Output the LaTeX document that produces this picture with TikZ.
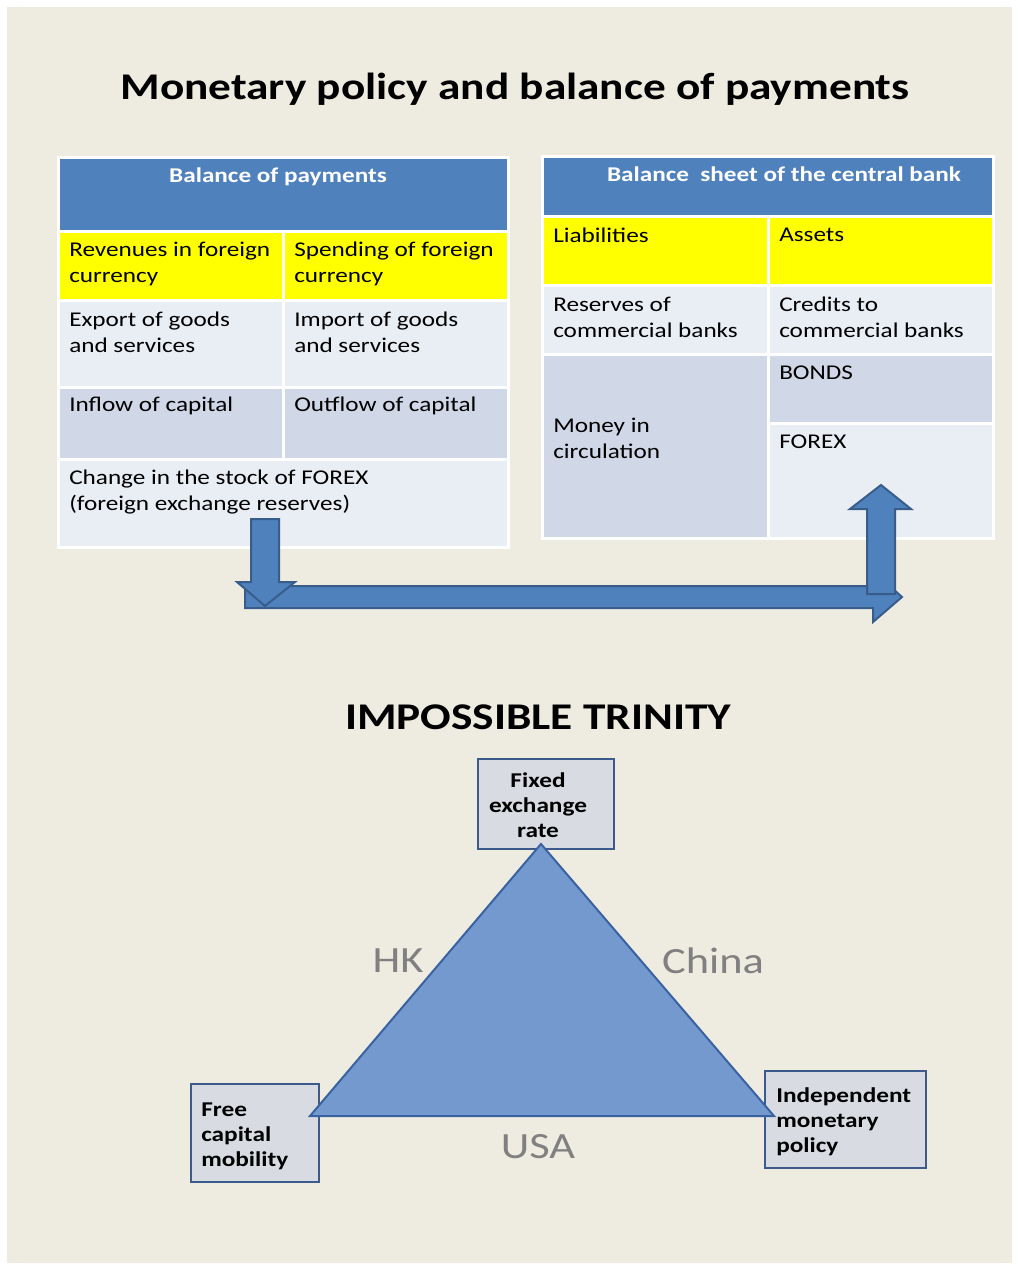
\documentclass[tikz,border=0pt]{standalone}
\usepackage{fontspec}
\setmainfont{Carlito}[FakeStretch=1.2]
\definecolor{bgbeige}{HTML}{EEECE1}
\definecolor{headblue}{HTML}{4F81BD}
\definecolor{cellyellow}{HTML}{FFFF00}
\definecolor{celllight}{HTML}{E9EDF4}
\definecolor{cellmid}{HTML}{D0D8E8}
\definecolor{arrowline}{HTML}{385D8A}
\definecolor{trifill}{HTML}{7399CF}
\definecolor{triline}{HTML}{3A62A0}
\definecolor{boxfill}{HTML}{D8DCE2}
\definecolor{boxline}{HTML}{3C5A8C}
\definecolor{labelgray}{HTML}{808080}
\tikzset{
  celltext/.style={anchor=west, inner sep=0pt, align=left, font=\fontsize{15.75}{19.5}\selectfont},
  headtext/.style={inner sep=0pt, text=white, font=\bfseries\fontsize{15.75}{19.5}\selectfont},
  titletext/.style={inner sep=0pt, font=\bfseries\fontsize{28.3}{34}\selectfont},
  grid/.style={white, line width=2.25pt},
  blockarrow/.style={fill=headblue, draw=arrowline, line width=1.5pt, line join=miter},
  cornerbox/.style={fill=boxfill, draw=boxline, line width=1.5pt},
  boxtext/.style={inner sep=0pt, font=\bfseries\fontsize{15.8}{18.75}\selectfont},
  country/.style={inner sep=0pt, text=labelgray, font=\fontsize{27.75}{33}\selectfont}
}
\begin{document}
\begin{tikzpicture}[x=0.75pt, y=-0.75pt]
% background
\fill[white] (0,0) rectangle (1017,1270);
\fill[bgbeige] (7,7) rectangle (1012,1263);
\useasboundingbox (0,0) rectangle (1017,1270);

\node[titletext] (title) at (515,89) {Monetary policy and balance of payments};

% ---------- Balance of payments table ----------
\fill[headblue] (58,157) rectangle (508,231);
\fill[cellyellow] (58,231) rectangle (508,300);
\fill[celllight] (58,300) rectangle (508,387);
\fill[cellmid] (58,387) rectangle (508,459);
\fill[celllight] (58,459) rectangle (508,547);
\draw[grid] (58,157) rectangle (508,547);
\draw[grid] (58,231) -- (508,231);
\draw[grid] (58,300) -- (508,300);
\draw[grid] (58,387) -- (508,387);
\draw[grid] (58,459) -- (508,459);
\draw[grid] (283,231) -- (283,459);

\node[headtext] (bophead) at (278,177) {Balance of payments};
\node[celltext] (rev) at (69,264) {Revenues in foreign\\currency};
\node[celltext] (spend) at (294,264) {Spending of foreign\\currency};
\node[celltext] (exp) at (69,332) {Export of goods\\and services};
\node[celltext] (imp) at (294,332) {Import of goods\\and services};
\node[celltext] (inflow) at (69,406) {Inflow of capital};
\node[celltext] (outflow) at (294,406) {Outflow of capital};
\node[celltext] (change) at (69,492) {Change in the stock of FOREX\\(foreign exchange reserves)};

% ---------- Central bank balance sheet ----------
\fill[headblue] (542,156) rectangle (993,216);
\fill[cellyellow] (542,216) rectangle (993,285);
\fill[celllight] (542,285) rectangle (993,354);
\fill[cellmid] (542,354) rectangle (993,423);
\fill[celllight] (768,423) rectangle (993,538);
\fill[cellmid] (542,423) rectangle (768,538);
\draw[grid] (542,156) rectangle (993,538);
\draw[grid] (542,216) -- (993,216);
\draw[grid] (542,285) -- (993,285);
\draw[grid] (542,354) -- (993,354);
\draw[grid] (768,423) -- (993,423);
\draw[grid] (768,216) -- (768,538);

\node[headtext] (cbhead) at (784,174) {Balance\ \ sheet of the central bank};
\node[celltext] (liab) at (553,235) {Liabilities};
\node[celltext] (assets) at (779,235) {Assets};
\node[celltext] (reserves) at (553,317) {Reserves of\\commercial banks};
\node[celltext] (credits) at (779,317) {Credits to\\commercial banks};
\node[celltext] (bonds) at (779,373) {BONDS};
\node[celltext] (forex) at (779,442) {FOREX};
\node[celltext] (money) at (553,438) {Money in\\circulation};

% ---------- block arrows ----------
\draw[blockarrow] (245,586) -- (873,586) -- (873,571) -- (902,597) -- (873,622) -- (873,608) -- (245,608) -- cycle;
\draw[blockarrow] (251,519) -- (279,519) -- (279,582) -- (295,582) -- (265,606) -- (237,582) -- (251,582) -- cycle;
\draw[blockarrow] (867,594) -- (867,509) -- (850,509) -- (881,485) -- (911,509) -- (895,509) -- (895,594) -- cycle;

% ---------- Impossible trinity ----------
\node[titletext] (trinity) at (538,717) {IMPOSSIBLE TRINITY};

\draw[cornerbox] (478,759) rectangle (614,849);
\draw[cornerbox] (191,1084) rectangle (319,1182);
\draw[cornerbox] (765,1071) rectangle (926,1168);

\draw[fill=trifill, draw=triline, line width=1.5pt, line join=miter] (541,844) -- (310,1116) -- (774,1116) -- cycle;

\node[boxtext, align=center] (fixed) at (538,805) {Fixed\\exchange\\rate};
\node[boxtext, align=left, anchor=west] (free) at (201,1136) {Free\\capital\\mobility};
\node[boxtext, align=left, anchor=west] (indep) at (776,1122) {Independent\\monetary\\policy};

\node[country] (hk) at (398,961) {HK};
\node[country] (china) at (713,961) {China};
\node[country] (usa) at (538,1147) {USA};
\end{tikzpicture}
\end{document}
